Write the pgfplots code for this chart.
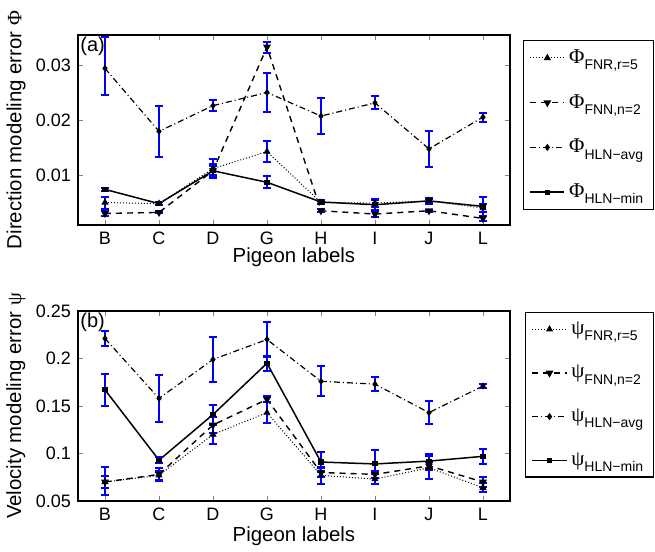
\documentclass[border=0pt]{standalone}
\usepackage{fontspec}
\setmainfont{Liberation Sans}
\newfontfamily\grk{Liberation Serif}
\usepackage{pgfplots}
\usepackage{pgfplotstable}
\pgfplotsset{compat=1.18}

\newcommand\legsym[2]{{\fontsize{10.5}{12}\selectfont\grk #1}\raisebox{-3.2pt}{\fontsize{7}{8}\selectfont #2}}

% top panel: direction error Phi
\pgfplotstableread{
x y ep em
1 0.0050 0.0010 0.0011
2 0.0048 0.0003 0.0003
3 0.0112 0.0018 0.0018
4 0.0143 0.0019 0.0019
5 0.0050 0.0003 0.0003
6 0.0049 0.0008 0.0008
7 0.0053 0.0004 0.0004
8 0.0040 0.0008 0.0008
}\phiFNR
\pgfplotstableread{
x y ep em
1 0.0030 0.0004 0.0004
2 0.0032 0.0002 0.0002
3 0.0108 0.0012 0.0012
4 0.0334 0.0010 0.0010
5 0.0035 0.0003 0.0003
6 0.0029 0.0006 0.0006
7 0.0035 0.0002 0.0002
8 0.0021 0.0005 0.0005
}\phiFNN
\pgfplotstableread{
x y ep em
1 0.0295 0.0057 0.0049
2 0.0180 0.0046 0.0046
3 0.0227 0.0010 0.0010
4 0.0251 0.0035 0.0035
5 0.0208 0.0033 0.0033
6 0.0232 0.0012 0.0012
7 0.0148 0.0033 0.0033
8 0.0206 0.0008 0.0008
}\phiAvg
\pgfplotstableread{
x y ep em
1 0.0074 0.0003 0.0003
2 0.0048 0.0003 0.0003
3 0.0108 0.0008 0.0008
4 0.0087 0.0011 0.0011
5 0.0051 0.0003 0.0003
6 0.0046 0.0009 0.0009
7 0.0053 0.0006 0.0006
8 0.0043 0.0018 0.0018
}\phiMin

% bottom panel: velocity error psi
\pgfplotstableread{
x y ep em
1 0.070 0.006 0.006
2 0.077 0.005 0.005
3 0.120 0.010 0.010
4 0.143 0.011 0.011
5 0.077 0.009 0.009
6 0.073 0.005 0.005
7 0.085 0.012 0.012
8 0.064 0.005 0.005
}\psiFNR
\pgfplotstableread{
x y ep em
1 0.070 0.016 0.014
2 0.078 0.007 0.007
3 0.130 0.008 0.008
4 0.157 0.003 0.003
5 0.080 0.005 0.005
6 0.078 0.004 0.004
7 0.087 0.004 0.004
8 0.070 0.005 0.005
}\psiFNN
\pgfplotstableread{
x y ep em
1 0.221 0.008 0.008
2 0.158 0.025 0.025
3 0.199 0.024 0.024
4 0.220 0.018 0.018
5 0.176 0.016 0.016
6 0.173 0.007 0.007
7 0.143 0.012 0.012
8 0.171 0.002 0.002
}\psiAvg
\pgfplotstableread{
x y ep em
1 0.167 0.017 0.017
2 0.093 0.003 0.003
3 0.141 0.010 0.010
4 0.195 0.008 0.008
5 0.091 0.011 0.011
6 0.089 0.015 0.015
7 0.092 0.007 0.007
8 0.097 0.008 0.008
}\psiMin

\pgfplotsset{
  pig/.style={
    width=216pt, height=95pt, scale only axis, clip=false,
    xmin=0.5, xmax=8.5, xtick={1,...,8},
    xticklabels={B,C,D,G,H,I,J,L},
    tick align=inside, major tick length=2.5pt,
    font=\fontsize{9}{10.8}\selectfont,
    /pgf/number format/assume math mode=true,
    scaled y ticks=false,
    yticklabel style={/pgf/number format/fixed, /pgf/number format/precision=2},
    xlabel={Pigeon labels},
    label style={font=\fontsize{10.2}{12}\selectfont},
    ylabel style={at={(axis description cs:-0.1204,0.5)}, anchor=south, inner sep=0pt},
    axis line style={line width=0.6pt},
    legend cell align=left,
    legend style={draw=black, line width=0.6pt, anchor=north west,
      row sep=10pt, inner xsep=3pt, inner ysep=2.5pt,
      font=\fontsize{9}{10.8}\selectfont},
  },
  eb/.style={
    /pgfplots/error bars/y dir=both, /pgfplots/error bars/y explicit,
    /pgfplots/error bars/error bar style={solid, blue, line width=1pt},
    /pgfplots/error bars/error mark options={solid, blue, rotate=90, mark size=2pt, line width=1pt},
  },
}

\begin{document}
\begin{tikzpicture}
\useasboundingbox (0,0) rectangle (327.5pt,276pt);

\begin{axis}[pig, at={(39pt,163.5pt)}, anchor=south west,
  ymin=0.0009, ymax=0.0356, ytick={0.01,0.02,0.03},
  ylabel={Direction modeling error {\grk Φ}},
  xlabel style={at={(axis description cs:0.5,-0.116)}, anchor=north, inner sep=0pt},
  legend style={at={(1.03,0.974)}},
  legend entries={{\legsym{Φ}{FNR,r=5}},{\legsym{Φ}{FNN,n=2}},{\legsym{Φ}{HLN−avg}},{\legsym{Φ}{HLN−min}}},
]
\addplot[black, line width=0.5pt, densely dotted, mark=triangle*, mark size=1.6pt, mark options={solid, fill=black}, eb]
  table[x=x, y=y, y error plus=ep, y error minus=em] {\phiFNR};
\addplot[black, line width=0.7pt, dash pattern=on 3pt off 2.5pt, mark=triangle*, mark size=1.6pt, mark options={solid, fill=black, rotate=180}, eb]
  table[x=x, y=y, y error plus=ep, y error minus=em] {\phiFNN};
\addplot[black, line width=0.6pt, dash pattern=on 3pt off 1.5pt on 0.5pt off 1.5pt, mark=diamond*, mark size=1.3pt, mark options={solid, fill=black}, eb]
  table[x=x, y=y, y error plus=ep, y error minus=em] {\phiAvg};
\addplot[black, line width=0.75pt, solid, mark=square*, mark size=0.9pt, mark options={solid, fill=black}, eb]
  table[x=x, y=y, y error plus=ep, y error minus=em] {\phiMin};
\node[anchor=north west, inner sep=1pt, font=\fontsize{10}{12}\selectfont] at (rel axis cs:0,1) {(a)};
\end{axis}

\begin{axis}[pig, at={(39pt,25.5pt)}, anchor=south west,
  ymin=0.05, ymax=0.25, ytick={0.05,0.1,0.15,0.2,0.25},
  ylabel={Velocity modeling error {\grk ψ}},
  xlabel style={at={(axis description cs:0.5,-0.135)}, anchor=north, inner sep=0pt},
  legend style={at={(1.035,0.995)}},
  legend entries={{\legsym{ψ}{FNR,r=5}},{\legsym{ψ}{FNN,n=2}},{\legsym{ψ}{HLN−avg}},{\legsym{ψ}{HLN−min}}},
]
\addplot[black, line width=0.5pt, densely dotted, mark=triangle*, mark size=1.6pt, mark options={solid, fill=black}, eb]
  table[x=x, y=y, y error plus=ep, y error minus=em] {\psiFNR};
\addplot[black, line width=0.7pt, dash pattern=on 3pt off 2.5pt, mark=triangle*, mark size=1.6pt, mark options={solid, fill=black, rotate=180}, eb]
  table[x=x, y=y, y error plus=ep, y error minus=em] {\psiFNN};
\addplot[black, line width=0.6pt, dash pattern=on 3pt off 1.5pt on 0.5pt off 1.5pt, mark=diamond*, mark size=1.3pt, mark options={solid, fill=black}, eb]
  table[x=x, y=y, y error plus=ep, y error minus=em] {\psiAvg};
\addplot[black, line width=0.75pt, solid, mark=square*, mark size=0.9pt, mark options={solid, fill=black}, eb]
  table[x=x, y=y, y error plus=ep, y error minus=em] {\psiMin};
\node[anchor=north west, inner sep=1pt, font=\fontsize{10}{12}\selectfont] at (rel axis cs:0,1) {(b)};
\end{axis}
\end{tikzpicture}
\end{document}
